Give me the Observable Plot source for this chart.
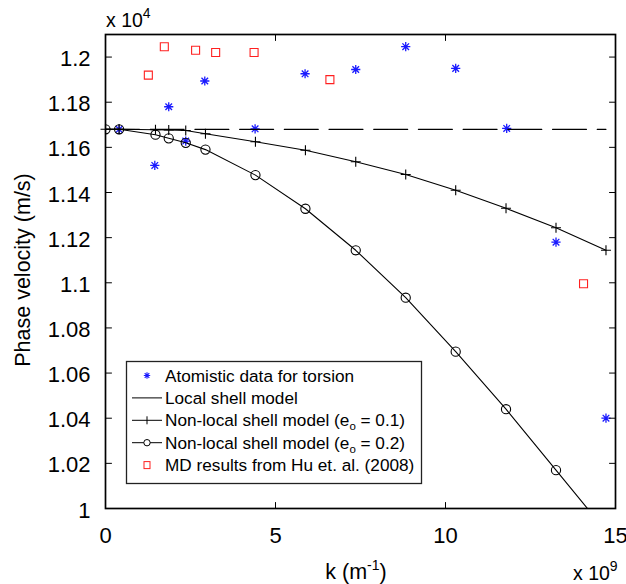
<!DOCTYPE html>
<html><head><meta charset="utf-8">
<script src="https://cdn.jsdelivr.net/npm/d3@7"></script>
<script src="https://cdn.jsdelivr.net/npm/@observablehq/plot@0.6"></script>
<style>
body{margin:0;background:#fff;}
#wrap{position:relative;width:626px;height:584px;}
</style></head><body><div id="wrap"></div>
<script>
// ---- data (phase velocity in units of 1e4 m/s, k in units of 1e9 1/m) ----
const kValues   = [0, 0.4, 1.47, 1.86, 2.36, 2.94, 4.41, 5.88, 7.36, 8.83, 10.3, 11.78, 13.25, 14.72];
const localShell = [1.168, 1.168, 1.168, 1.168, 1.168, 1.168, 1.168, 1.168, 1.168, 1.168, 1.168, 1.168, 1.168, 1.168];
const nonlocal01 = [1.168, 1.168, 1.1678, 1.1677, 1.1675, 1.166, 1.1625, 1.1587, 1.1536, 1.148, 1.141, 1.133, 1.1244, 1.1144];
const nonlocal02 = [1.168, 1.168, 1.1656, 1.164, 1.162, 1.159, 1.1477, 1.1328, 1.1144, 1.0934, 1.0695, 1.044, 1.017, 0.990];
const atomK = [0.4, 1.45, 1.86, 2.36, 2.92, 4.4, 5.87, 7.36, 8.83, 10.3, 11.8, 13.25, 14.72];
const atomV = [1.168, 1.152, 1.178, 1.1628, 1.1894, 1.1682, 1.1926, 1.1945, 1.2046, 1.195, 1.1684, 1.118, 1.04];
const mdK = [1.26, 1.73, 2.65, 3.24, 4.37, 6.6, 14.06];
const mdV = [1.192, 1.2046, 1.203, 1.202, 1.202, 1.190, 1.0996];
const xDomain = [0, 15];
const yDomain = [1, 1.21];
const xTicks = [0, 5, 10, 15];
const yTicks = [1, 1.02, 1.04, 1.06, 1.08, 1.1, 1.12, 1.14, 1.16, 1.18, 1.2];
const legendLabels = ["Atomistic data for torsion", "Local shell model", "Non-local shell model (e", "Non-local shell model (e", "MD results from Hu et. al. (2008)"];
const legendSuffix = ["", "", "o|= 0.1)", "o|= 0.2)", ""];

// ---- tables built from arrays ----
const curves = kValues.map((k, i) => ({k, local: localShell[i], n1: nonlocal01[i], n2: nonlocal02[i]}));
const atom = atomK.map((k, i) => ({k, v: atomV[i]}));
const md = mdK.map((k, i) => ({k, v: mdV[i]}));

const ff = "'Liberation Sans', Arial, Helvetica, sans-serif";
const plusSym = {draw(c, s){const r = Math.sqrt(s/Math.PI); c.moveTo(-r,0); c.lineTo(r,0); c.moveTo(0,-r); c.lineTo(0,r);}};
const starSym = {draw(c, s){const r = Math.sqrt(s/Math.PI), d = r*0.72;
  c.moveTo(-r,0); c.lineTo(r,0); c.moveTo(0,-r); c.lineTo(0,r);
  c.moveTo(-d,-d); c.lineTo(d,d); c.moveTo(-d,d); c.lineTo(d,-d);}};
const squareSym = {draw(c, s){const r = Math.sqrt(s/Math.PI); c.rect(-r,-r,2*r,2*r);}};
const tickShape = {draw(c, l){c.moveTo(0,0); c.lineTo(0,-l);}};
const TL = 6;

const chart = Plot.plot({
  width: 626, height: 584,
  marginLeft: 105, marginRight: 11, marginTop: 34, marginBottom: 76,
  style: {fontFamily: ff, background: "white", color: "black"},
  x: {domain: xDomain, axis: null},
  y: {domain: yDomain, axis: null},
  marks: [
    Plot.dot(atom, {x: "k", y: "v", symbol: starSym, r: 4.6, stroke: "#1a1aff", strokeWidth: 1.3, fill: "none"}),
    Plot.line(curves, {x: "k", y: "local", stroke: "black", strokeWidth: 1.2, strokeDasharray: "34,10.7"}),
    Plot.line(curves, {x: "k", y: "n1", stroke: "black", strokeWidth: 1.1}),
    Plot.dot(curves, {x: "k", y: "n1", symbol: plusSym, r: 5, stroke: "black", strokeWidth: 1.1, fill: "none"}),
    Plot.line(curves, {x: "k", y: "n2", stroke: "black", strokeWidth: 1.1, clip: true}),
    Plot.dot(curves, {x: "k", y: "n2", symbol: "circle", r: 4.6, stroke: "black", strokeWidth: 1.1, fill: "none", clip: true}),
    Plot.dot(md, {x: "k", y: "v", symbol: squareSym, r: 4, stroke: "#ff2020", strokeWidth: 1.1, fill: "none"}),
    // inward ticks on all four sides
    Plot.vector(xTicks, {x: d => d, y: yDomain[0], length: TL, rotate: 0, anchor: "start", shape: tickShape, stroke: "black", strokeWidth: 1}),
    Plot.vector(xTicks, {x: d => d, y: yDomain[1], length: TL, rotate: 180, anchor: "start", shape: tickShape, stroke: "black", strokeWidth: 1}),
    Plot.vector(yTicks, {x: xDomain[0], y: d => d, length: TL, rotate: 90, anchor: "start", shape: tickShape, stroke: "black", strokeWidth: 1}),
    Plot.vector(yTicks, {x: xDomain[1], y: d => d, length: TL, rotate: -90, anchor: "start", shape: tickShape, stroke: "black", strokeWidth: 1}),
    Plot.frame({stroke: "black", strokeWidth: 1.7}),
    Plot.axisX({ticks: xTicks, tickSize: 0, tickPadding: 19, label: null, fontSize: 22, tickFormat: d => String(d)}),
    Plot.axisY({ticks: yTicks, tickSize: 0, tickPadding: 15, label: null, fontSize: 22, dy: 2, tickFormat: d => String(d)})
  ]
});
document.getElementById("wrap").appendChild(chart);

// ---- extra labels and legend ----
const svg = d3.select(chart);
function sup(t, base, supTxt, size){ t.append("tspan").text(base); t.append("tspan").attr("font-size", size).attr("dy", -9).text(supTxt); }
svg.append("text").attr("transform", "translate(30,270) rotate(-90)").attr("text-anchor", "middle")
  .attr("font-family", ff).attr("font-size", 21.5).text("Phase velocity (m/s)");
{ const t = svg.append("text").attr("x", 356).attr("y", 579).attr("text-anchor", "middle").attr("font-family", ff).attr("font-size", 21.5);
  t.append("tspan").text("k (m"); t.append("tspan").attr("font-size", 14).attr("dy", -9).text("-1"); t.append("tspan").attr("dy", 9).text(")"); }
{ const t = svg.append("text").attr("x", 573).attr("y", 580).attr("text-anchor", "start").attr("font-family", ff).attr("font-size", 19.5); sup(t, "x 10", "9", 14); }
{ const t = svg.append("text").attr("x", 106).attr("y", 27).attr("text-anchor", "start").attr("font-family", ff).attr("font-size", 19.5); sup(t, "x 10", "4", 14); }

const lg = svg.append("g").attr("text-anchor", "start");
lg.append("rect").attr("x", 126.5).attr("y", 361.5).attr("width", 295).attr("height", 122)
  .attr("fill", "white").attr("stroke", "#222").attr("stroke-width", 1.3);
const rowY = i => 375.5 + i*22.4;
const mx = 147, lx1 = 132, lx2 = 162;
legendLabels.forEach((lab, i) => {
  const y = rowY(i);
  const t = lg.append("text").attr("x", 165).attr("y", y).attr("dy", "0.36em").attr("text-anchor", "start").attr("font-family", ff).attr("font-size", 17.2);
  t.append("tspan").text(lab);
  if (legendSuffix[i]) { const [s, rest] = legendSuffix[i].split("|"); t.append("tspan").attr("font-size", 11.5).attr("dy", 4).text(s); t.append("tspan").attr("dy", -4).text(" " + rest); }
});
// star
{ const y = rowY(0), r = 3.2, d = r*0.72;
  lg.append("path").attr("d", `M${mx-r},${y}H${mx+r}M${mx},${y-r}V${y+r}M${mx-d},${y-d}L${mx+d},${y+d}M${mx-d},${y+d}L${mx+d},${y-d}`)
    .attr("stroke", "#1a1aff").attr("stroke-width", 1.1).attr("fill", "none"); }
// local line
lg.append("line").attr("x1", lx1).attr("x2", lx2).attr("y1", rowY(1)).attr("y2", rowY(1)).attr("stroke", "black");
// plus line
{ const y = rowY(2); lg.append("line").attr("x1", lx1).attr("x2", lx2).attr("y1", y).attr("y2", y).attr("stroke", "black");
  lg.append("line").attr("x1", mx).attr("x2", mx).attr("y1", y-4).attr("y2", y+4).attr("stroke", "black"); }
// circle line
{ const y = rowY(3); lg.append("line").attr("x1", lx1).attr("x2", lx2).attr("y1", y).attr("y2", y).attr("stroke", "black");
  lg.append("circle").attr("cx", mx).attr("cy", y).attr("r", 3.2).attr("fill", "white").attr("stroke", "black"); }
// square
{ const y = rowY(4); lg.append("rect").attr("x", mx-3).attr("y", y-3.5).attr("width", 6).attr("height", 7).attr("fill", "none").attr("stroke", "#ff2020"); }
</script></body></html>
